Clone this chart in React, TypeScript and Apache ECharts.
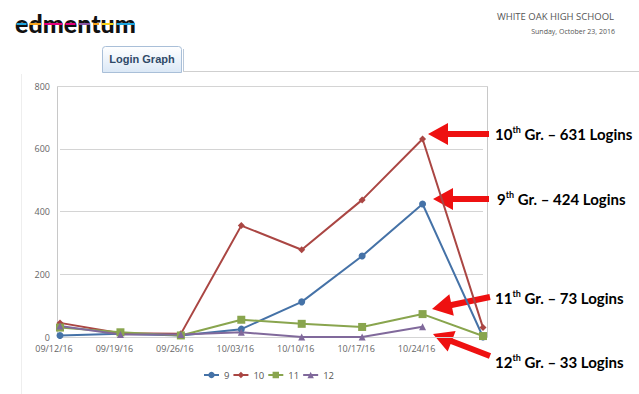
import React, { useEffect, useRef } from "react";
import * as echarts from "echarts";

const categories = ["09/12/16", "09/19/16", "09/26/16", "10/03/16", "10/10/16", "10/17/16", "10/24/16", "10/31/16"];
const grade9 = [5, 10, 5, 25, 112, 258, 424, 0];
const grade10 = [45, 12, 10, 355, 278, 437, 631, 30];
const grade11 = [30, 15, 5, 55, 42, 32, 73, 3];
const grade12 = [35, 8, 8, 15, 0, 0, 33, null];
const yTicks = [0, 200, 400, 600, 800];

const seriesNames = ["9", "10", "11", "12"];
const seriesColors = ["#4572A7", "#AA4643", "#89A54E", "#80699B"];
const seriesSymbols = ["circle", "diamond", "rect", "triangle"];

// logo stripe colours, one per letter of "edmentum"
const logoColors = ["#1ea5de", "#f6a31c", "#e4007d", "#e4007d", "#8a55a5", "#f6a31c", "#f7d117", "#1ea5de"];
const logoLetterEdges = [15, 28, 42.5, 64, 77, 91.5, 100.5, 115, 136.5];

function arrow(tx: number, ty: number, bx: number, by: number, headLen = 20, headW = 22, shaftW = 6) {
  const dx = bx - tx, dy = by - ty;
  const L = Math.sqrt(dx * dx + dy * dy);
  const ux = dx / L, uy = dy / L;
  const px = -uy, py = ux;
  const hx = tx + ux * headLen, hy = ty + uy * headLen;
  return [
    [tx, ty],
    [hx + px * headW / 2, hy + py * headW / 2],
    [hx + px * shaftW / 2, hy + py * shaftW / 2],
    [bx + px * shaftW / 2, by + py * shaftW / 2],
    [bx - px * shaftW / 2, by - py * shaftW / 2],
    [hx - px * shaftW / 2, hy - py * shaftW / 2],
    [hx - px * headW / 2, hy - py * headW / 2],
  ];
}

function note(x: number, y: number, num: string, rest: string) {
  return {
    type: "text",
    x,
    y,
    style: {
      text: `{n|${num}}{s|th}{n|${rest}}`,
      verticalAlign: "middle",
      rich: {
        n: { fontFamily: "Lato", fontWeight: "bold", fontSize: 15, fill: "#000", lineHeight: 18 },
        s: { fontFamily: "Lato", fontWeight: "bold", fontSize: 9, fill: "#000", lineHeight: 12, verticalAlign: "top" },
      },
    },
  };
}

export default function App() {
  const ref = useRef<HTMLDivElement>(null);
  useEffect(() => {
    document.body.style.margin = "0";
    const chart = echarts.init(ref.current!, null, { renderer: "svg" });
    const data = [grade9, grade10, grade11, grade12];
    const stripes = logoColors.map((c, i) => ({
      type: "rect",
      z: 10,
      shape: { x: logoLetterEdges[i] + 1.5, y: 23, width: logoLetterEdges[i + 1] - logoLetterEdges[i] - 3, height: 2 },
      style: { fill: c },
    }));
    chart.setOption({
      animation: false,
      backgroundColor: "#fff",
      grid: { left: 60, right: 156, top: 86, bottom: 57 },
      xAxis: {
        type: "category",
        data: categories,
        boundaryGap: false,
        axisLine: { show: false },
        axisTick: { show: false },
        axisLabel: {
          color: "#666",
          fontSize: 9,
          fontFamily: "Open Sans",
          margin: 7,
          padding: [0, 12, 0, 0],
          formatter: (v: string, i: number) => (i === categories.length - 1 ? "" : v),
        },
      },
      yAxis: {
        type: "value",
        min: yTicks[0],
        max: yTicks[yTicks.length - 1],
        interval: 200,
        axisLine: { show: false },
        axisTick: { show: false },
        axisLabel: { color: "#666", fontSize: 9, fontFamily: "Open Sans", margin: 10 },
        splitLine: { lineStyle: { color: "#d4d4d4" } },
      },
      legend: {
        left: 203,
        top: 370,
        padding: 0,
        itemWidth: 15,
        itemHeight: 8,
        itemGap: 3,
        textStyle: { color: "#555", fontSize: 9.5, fontFamily: "Open Sans" },
        data: seriesNames,
      },
      series: seriesNames.map((n, i) => ({
        name: n,
        type: "line",
        data: data[i],
        color: seriesColors[i],
        symbol: seriesSymbols[i],
        symbolSize: i === 2 ? 8 : 7,
        showSymbol: true,
        lineStyle: { width: 2 },
      })),
      graphic: [
        { type: "rect", z: -1, shape: { x: 57.5, y: 86.5, width: 430, height: 251 }, style: { fill: "none", stroke: "#c8c8c8", lineWidth: 1 } },
        { type: "line", z: -1, shape: { x1: 57.5, y1: 86.5, x2: 487.5, y2: 86.5 }, style: { stroke: "#d4d4d4" } },
        { type: "text", x: 15, y: 10, style: { text: "edmentum", font: "900 25px Lato", fill: "#111" } },
        ...stripes,
        { type: "text", x: 614, y: 11, style: { text: "WHITE OAK HIGH SCHOOL", align: "right", font: "9.5px 'Open Sans'", fill: "#555" } },
        { type: "text", x: 615, y: 28, style: { text: "Sunday, October 23, 2016", align: "right", font: "7px 'Open Sans'", fill: "#555" } },
        { type: "line", shape: { x1: 183, y1: 71.5, x2: 639, y2: 71.5 }, style: { stroke: "#cfcfcf", lineWidth: 1 } },
        { type: "line", shape: { x1: 21.5, y1: 74, x2: 21.5, y2: 394 }, style: { stroke: "#eeeeee", lineWidth: 1 } },
        {
          type: "rect",
          shape: { x: 102.5, y: 46.5, width: 79, height: 26, r: [3, 3, 0, 0] },
          style: {
            fill: new echarts.graphic.LinearGradient(0, 0, 0, 1, [
              { offset: 0, color: "#ffffff" },
              { offset: 1, color: "#dbe8f6" },
            ]),
            stroke: "#a9bfd8",
            lineWidth: 1,
          },
        },
        { type: "line", shape: { x1: 183.5, y1: 49, x2: 183.5, y2: 71 }, style: { stroke: "#b8c8da", lineWidth: 1 } },
        { type: "text", x: 142, y: 59, style: { text: "Login Graph", align: "center", verticalAlign: "middle", font: "bold 11px 'Liberation Sans'", fill: "#2f4a68" } },
        { type: "polygon", shape: { points: arrow(428, 134, 489, 134) }, style: { fill: "#ee1111" } },
        { type: "polygon", shape: { points: arrow(433, 199, 489, 199) }, style: { fill: "#ee1111" } },
        { type: "polygon", shape: { points: arrow(432, 309, 490, 297) }, style: { fill: "#ee1111" } },
        { type: "polygon", shape: { points: arrow(433, 334, 490, 356) }, style: { fill: "#ee1111" } },
        note(495, 134, "10", " Gr. – 631 Logins"),
        note(497, 199, "9", " Gr. – 424 Logins"),
        note(495, 298, "11", " Gr. – 73 Logins"),
        note(495, 362, "12", " Gr. – 33 Logins"),
      ],
    });
    return () => chart.dispose();
  }, []);
  return <div ref={ref} style={{ position: "fixed", left: 0, top: 0, width: 639, height: 394 }} />;
}
